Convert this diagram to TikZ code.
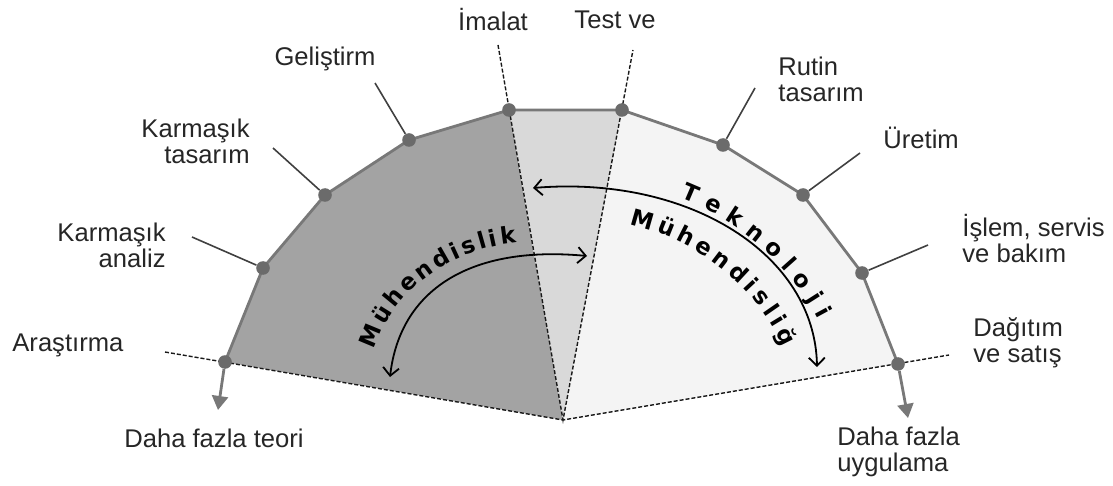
\documentclass[tikz,border=0pt]{standalone}
\usepackage{fontspec}
\setmainfont{Liberation Sans}
\newfontfamily\arcfont{DejaVu Sans}
\usetikzlibrary{arrows.meta,decorations.text}

\definecolor{zonedark}{gray}{0.64}
\definecolor{zonemid}{gray}{0.85}
\definecolor{zonelight}{gray}{0.955}
\definecolor{rimgray}{gray}{0.47}
\definecolor{dotgray}{gray}{0.42}

\newcommand\arcstyle{\arcfont\bfseries\fontsize{11.5}{13}\selectfont}

\begin{document}
\begin{tikzpicture}[x=0.5pt, y=-0.5pt,
    lbl/.style={
        inner sep=0pt,
        text=black!85,
        font=\fontsize{12.8}{13}\selectfont
    },
    dot/.style={
        circle,
        fill=dotgray,
        inner sep=0pt,
        minimum size=6.8pt
    },
    rim/.style={draw=rimgray, line width=1.4pt, line join=round},
    guide/.style={draw=black!90, line width=0.7pt, dash pattern=on 2pt off 1pt},
    leader/.style={draw=black!75, line width=0.8pt},
    outflow/.style={draw=rimgray, line width=1.4pt, -{Triangle[length=7pt,width=8pt]}},
    flow/.style={draw=black, line width=0.9pt,
        {Straight Barb[length=4pt,width=8pt]}-{Straight Barb[length=4pt,width=8pt]}},
    arctext/.style={decorate, decoration={text along path,
        text align={fit to path}, text={|\arcstyle|#1}}}
]
\useasboundingbox (0,0) rectangle (1113,486);

%%%%%%%%%%%%%%%%%%%%%%%%
% Points of the rim
%%%%%%%%%%%%%%%%%%%%%%%%

\coordinate (apex)  at (563,420);
\coordinate (p-ara) at (225,362);
\coordinate (p-kan) at (263,268);
\coordinate (p-kts) at (325,195);
\coordinate (p-gel) at (409,140);
\coordinate (p-ima) at (509,110);
\coordinate (p-tst) at (622,110);
\coordinate (p-rut) at (723,145);
\coordinate (p-ure) at (803,195);
\coordinate (p-isl) at (862,273);
\coordinate (p-dag) at (898,364);

% --- ends of the dashed lines ---
\coordinate (g-left)  at (165,352);
\coordinate (g-right) at (949,355);
\coordinate (g-ima)   at (498,45);
\coordinate (g-tst)   at (633,50);

%%%%%%%%%%%%%%%%%%%%%%%%
% Zones
%%%%%%%%%%%%%%%%%%%%%%%%

\fill[zonedark] (apex) -- (p-ara) -- (p-kan) -- (p-kts) -- (p-gel) -- (p-ima) -- cycle;
\fill[zonemid] (apex) -- (p-ima) -- (p-tst) -- cycle;
\fill[zonelight] (apex) -- (p-tst) -- (p-rut) -- (p-ure) -- (p-isl) -- (p-dag) -- cycle;

% --- dashed lines ---
\draw[guide] (g-left) -- (apex) -- (g-right);
\draw[guide] (g-ima) -- (apex) -- (g-tst);

% --- rim ---
\draw[rim] (p-ara) -- (p-kan) -- (p-kts) -- (p-gel) -- (p-ima) -- (p-tst)
    -- (p-rut) -- (p-ure) -- (p-isl) -- (p-dag);

% --- dots ---
\foreach \p in {ara,kan,kts,gel,ima,tst,rut,ure,isl,dag}
    \node[dot] (d-\p) at (p-\p) {};

% --- outer arrows ---
\coordinate (t-teo) at (218,410);
\coordinate (t-uyg) at (908,418);
\draw[outflow] (d-ara) -- (t-teo);
\draw[outflow] (d-dag) -- (t-uyg);

%%%%%%%%%%%%%%%%%%%%%%%%
% Labels
%%%%%%%%%%%%%%%%%%%%%%%%

\node[lbl, anchor=west] (ara) at (12,345) {Araştırma};
\node[lbl, anchor=east, align=right] (kan) at (166,245) {Karmaşık\\analiz};
\node[lbl, anchor=east, align=right] (kts) at (250,141) {Karmaşık\\tasarım};
\node[lbl] (gel) at (325,59) {Geliştirm};
\node[lbl] (ima) at (493,20) {İmalat};
\node[lbl] (tst) at (615,20) {Test ve};
\node[lbl, anchor=west, align=left] (rut) at (778,79) {Rutin\\tasarım};
\node[lbl, anchor=west] (ure) at (883,138) {Üretim};
\node[lbl, anchor=west, align=left] (isl) at (962,239) {İşlem, servis\\ve bakım};
\node[lbl, anchor=west, align=left] (dag) at (973,343) {Dağıtım\\ve satış};
\node[lbl] (teo) at (214,438) {Daha fazla teori};
\node[lbl, anchor=west, align=left] (uyg) at (837,452) {Daha fazla\\uygulama};

% --- leaders ---
\coordinate (l-kan) at (192,237);
\coordinate (l-kts) at (273,148);
\coordinate (l-gel) at (375,83);
\coordinate (l-rut) at (755,88);
\coordinate (l-ure) at (860,153);
\coordinate (l-isl) at (928,245);
\foreach \p in {kan,kts,gel,rut,ure,isl}
    \draw[leader] (l-\p) -- (d-\p);

%%%%%%%%%%%%%%%%%%%%%%%%
% Curved arrows
%%%%%%%%%%%%%%%%%%%%%%%%

\coordinate (m-a) at (390,377);
\coordinate (m-b) at (587,256);
\draw[flow] (m-a) .. controls (400,290) and (470,245) .. (m-b);

\coordinate (k-a) at (533,188);
\coordinate (k-b) at (817,367);
\draw[flow] (k-a) .. controls (690,175) and (815,255) .. (k-b);

\path[arctext=Mühendislik] (534,390) ++(-164:166 and 148)
    arc[start angle=-164, end angle=-96, x radius=166, y radius=148];
\path[arctext=Teknoloji] (575,430) ++(-67:271 and 252)
    arc[start angle=-67, end angle=-26, x radius=271, y radius=252];
\path[arctext=Mühendisliğ] (575,430) ++(-76:226 and 212)
    arc[start angle=-76, end angle=-23, x radius=226, y radius=212];

\end{tikzpicture}
\end{document}
